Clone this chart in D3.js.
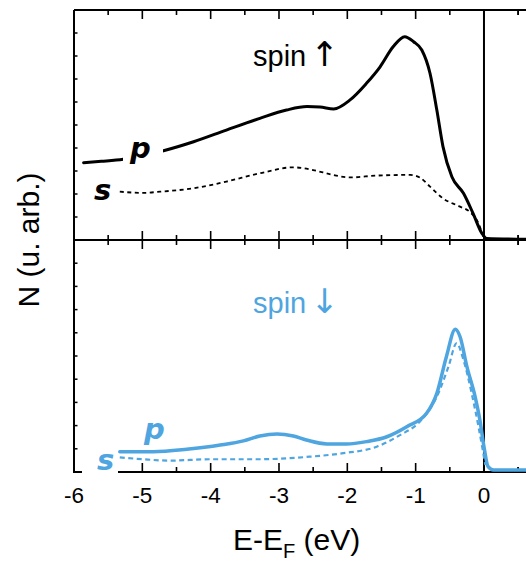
<!DOCTYPE html>
<html><head><meta charset="utf-8">
<script src="https://cdn.jsdelivr.net/npm/d3@7"></script>
<style>html,body{margin:0;padding:0;background:#fff;}svg{display:block;font-family:"Liberation Sans",Arial,Helvetica,sans-serif;}</style>
</head><body>
<svg id="c" width="526" height="565"></svg>
<script>
// ---- data (energy in eV, N in arbitrary units) ----
const xTicks = [-6, -5, -4, -3, -2, -1, 0];
const upP_E = [-5.86,-5.6,-5.28,-4.69,-4.25,-3.77,-3.28,-2.89,-2.59,-2.4,-2.2,-1.96,-1.72,-1.52,-1.33,-1.16,-1.03,-0.91,-0.79,-0.69,-0.60,-0.47,-0.30,-0.16,-0.03,0.04,0.62];
const upP_N = [3.36,3.42,3.51,3.88,4.27,4.78,5.29,5.65,5.80,5.78,5.70,6.09,6.81,7.53,8.40,8.84,8.62,8.26,7.25,5.65,4.06,2.75,2.03,1.16,0.29,0.07,0.03];
const upS_E = [-5.33,-4.99,-4.74,-4.25,-3.77,-3.28,-2.79,-2.50,-2.21,-1.96,-1.57,-1.08,-0.94,-0.79,-0.60,-0.35,-0.21,-0.08,-0.01];
const upS_N = [2.10,2.05,2.10,2.25,2.54,2.90,3.16,3.04,2.83,2.72,2.80,2.83,2.72,2.32,1.81,1.45,1.23,0.72,0.14];
const dnP_E = [-5.33,-4.84,-4.35,-3.86,-3.52,-3.28,-3.03,-2.79,-2.60,-2.30,-2.01,-1.72,-1.42,-1.13,-0.84,-0.69,-0.55,-0.42,-0.35,-0.25,-0.13,-0.06,0.0,0.06,0.14,0.62];
const dnP_N = [0.875,0.875,0.98,1.16,1.34,1.55,1.64,1.55,1.38,1.21,1.21,1.31,1.52,1.95,2.53,3.39,4.97,6.15,5.83,4.54,3.25,2.24,1.09,0.23,0.09,0.09];
const dnS_E = [-5.33,-4.99,-4.60,-4.01,-3.28,-2.55,-2.06,-1.57,-1.23,-0.94,-0.69,-0.52,-0.40,-0.30,-0.18,-0.08,-0.01,0.02];
const dnS_N = [0.63,0.55,0.49,0.55,0.55,0.66,0.81,1.09,1.59,2.17,3.25,4.54,5.55,4.83,3.39,1.95,0.81,0.30];

const BLUE = "#4ea5e0";
const svg = d3.select("#c");
const X0 = 74, UNIT = 68.33;
const x = d3.scaleLinear().domain([-6, 0.65]).range([X0, X0 + 6.65 * UNIT]);
const yTop = d3.scaleLinear().domain([0, 10]).range([240, 10]);
const yBot = d3.scaleLinear().domain([0, 10]).range([472, 240]);
const xMinor = d3.range(-6, 0.51, 0.5).filter(v => Math.abs(v - Math.round(v)) > 0.01);
const xMinorAll = xMinor.concat([0.5]);

const g = svg.append("g");
function xAxisAt(y, dir) {
  const a = g.append("g").attr("transform", `translate(0,${y})`);
  a.append("line").attr("x1", X0).attr("x2", 526).attr("stroke", "#000").attr("stroke-width", 2);
  a.selectAll(".mj").data(xTicks).join("line").attr("x1", d => x(d)).attr("x2", d => x(d))
    .attr("y1", 0).attr("y2", dir * 9).attr("stroke", "#000").attr("stroke-width", 1.6);
  a.selectAll(".mn").data(xMinorAll).join("line").attr("x1", d => x(d)).attr("x2", d => x(d))
    .attr("y1", 0).attr("y2", dir * 5).attr("stroke", "#000").attr("stroke-width", 1.6);
}
xAxisAt(yTop(10), 1);
xAxisAt(yTop(0), -1);
xAxisAt(yBot(10), 1);
xAxisAt(yBot(0), -1);

// left axis
g.append("line").attr("x1", X0).attr("x2", X0).attr("y1", 10).attr("y2", 473).attr("stroke", "#000").attr("stroke-width", 2);
const yT = d3.range(1, 10);
g.selectAll(".yt1").data(yT).join("line").attr("x1", X0).attr("x2", X0 + 3.5)
  .attr("y1", d => yTop(d)).attr("y2", d => yTop(d)).attr("stroke", "#000").attr("stroke-width", 1.5);
g.selectAll(".yt2").data(yT).join("line").attr("x1", X0).attr("x2", X0 + 3.5)
  .attr("y1", d => yBot(d)).attr("y2", d => yBot(d)).attr("stroke", "#000").attr("stroke-width", 1.5);

// E_F line
g.append("line").attr("x1", x(0)).attr("x2", x(0)).attr("y1", 10).attr("y2", 473).attr("stroke", "#000").attr("stroke-width", 2);

// tick labels
g.selectAll(".tl").data(xTicks).join("text").attr("x", d => x(d)).attr("y", 503)
  .attr("text-anchor", "middle").attr("font-size", 22.5).text(d => d);

// curves
function draw(E, N, ys, color, w, dash) {
  const pts = E.map((e, i) => [e, N[i]]);
  const line = d3.line().x(d => x(d[0])).y(d => ys(d[1])).curve(d3.curveMonotoneX);
  const p = g.append("path").attr("d", line(pts)).attr("fill", "none").attr("stroke", color)
    .attr("stroke-width", w).attr("stroke-linejoin", "round");
  if (dash) p.attr("stroke-dasharray", dash); else p.attr("stroke-linecap", "round");
}
draw(upS_E, upS_N, yTop, "#000", 1.8, "4,3.5");
draw(upP_E, upP_N, yTop, "#000", 3, null);
draw(dnS_E, dnS_N, yBot, BLUE, 2.2, "5,3.5");
draw(dnP_E, dnP_N, yBot, BLUE, 3.5, null);

// white knockouts behind labels
g.append("rect").attr("x", 123).attr("y", 138).attr("width", 40).attr("height", 30).attr("fill", "#fff");
g.append("rect").attr("x", 82).attr("y", 450).attr("width", 36).attr("height", 28).attr("fill", "#fff");

// orbital labels
function orb(t, px, py, color) {
  g.append("text").attr("x", px).attr("y", py).attr("font-size", 29).attr("font-weight", "bold")
    .attr("font-family", "'DejaVu Sans', sans-serif")
    .attr("font-style", "oblique").attr("fill", color).text(t);
}
orb("p", 130, 158, "#000");
orb("s", 94, 200, "#000");
orb("p", 144, 439, BLUE);
orb("s", 97, 470, BLUE);

// spin labels
function spin(txt, arrow, py, color) {
  const t = g.append("text").attr("x", 253).attr("y", py).attr("font-size", 29).attr("fill", color);
  t.append("tspan").text(txt);
  t.append("tspan").attr("font-family", "'DejaVu Sans', sans-serif").attr("font-size", 34).attr("dx", 4).text(arrow);
}
spin("spin", "\u2191", 66, "#000");
spin("spin", "\u2193", 313, BLUE);

// axis titles
const xt = svg.append("text").attr("x", 233).attr("y", 550).attr("font-size", 30);
xt.append("tspan").text("E-E");
xt.append("tspan").attr("font-size", 20).attr("dy", 8).text("F");
xt.append("tspan").attr("dy", -8).text(" (eV)");
svg.append("text").attr("transform", "translate(39,240) rotate(-90)").attr("text-anchor", "middle")
  .attr("font-size", 30).text("N (u. arb.)");
</script>
</body></html>
